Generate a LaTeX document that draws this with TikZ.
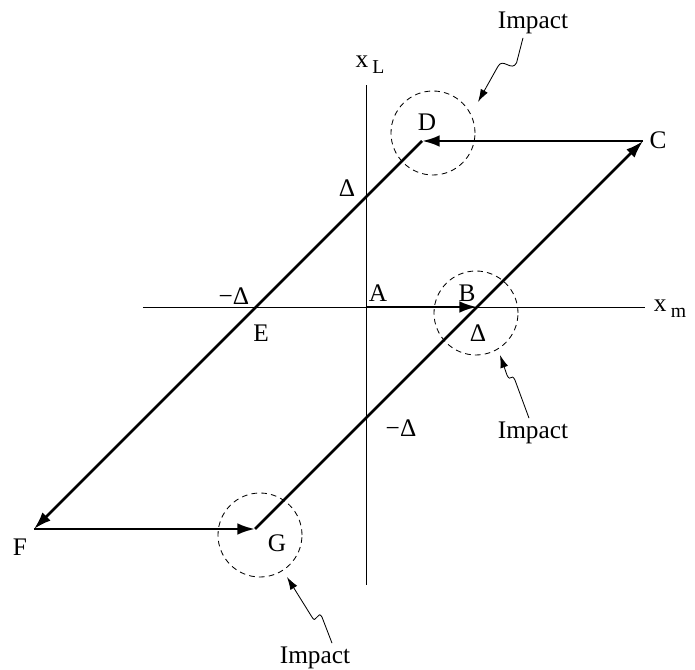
\documentclass[tikz,border=0pt]{standalone}
\usepackage{fontspec}
\setmainfont{Liberation Serif}
\usetikzlibrary{arrows.meta, calc}
\tikzset{
  every picture/.style={font=\fontsize{18}{21}\selectfont, line width=0.7pt},
  axis/.style={line width=0.7pt},
  orbit/.style={line width=1.9pt, -{Latex[length=4.4mm, width=2.9mm]}},
  impact/.style={circle, draw, dash pattern=on 4pt off 3pt, minimum size=2.1cm, inner sep=0pt, line width=0.6pt},
  hint/.style={line width=0.6pt, -{Latex[length=3.2mm, width=2mm]}},
  lbl/.style={inner sep=1pt},
}
\newcommand{\subx}[1]{x\,\raisebox{-0.55ex}{\fontsize{14}{16}\selectfont #1}}

\begin{document}
\begin{tikzpicture}
  \useasboundingbox (-9.15,-9.075) rectangle (8.225,7.675);
  % axes
  \coordinate (xl) at (-5.575,0);
  \coordinate (xr) at (6.975,0);
  \coordinate (yb) at (0,-6.95);
  \coordinate (yt) at (0,5.55);
  \draw[axis] (xl) -- (xr);
  \draw[axis] (yb) -- (yt);
  \node[lbl] (xm) at (7.6,-0.05) {\subx{m}};
  \node[lbl] (xL) at (0.1,6.05) {\subx{L}};
  % corners of the cycle
  \coordinate (A) at (0,0);
  \coordinate (B) at (2.775,0);
  \coordinate (C) at (6.925,4.15);
  \coordinate (D) at (1.4,4.15);
  \coordinate (F) at (-8.3,-5.55);
  \coordinate (G) at (-2.775,-5.55);
  \draw[orbit] (A) -- (B);
  \draw[orbit] (G) -- (C);
  \draw[orbit] (C) -- (D);
  \draw[orbit] (D) -- (F);
  \draw[orbit] (F) -- (G);
  \node[lbl] (labA) at (0.3,0.35) {A};
  \node[lbl] (labB) at (2.525,0.35) {B};
  \node[lbl] (labC) at (7.3,4.175) {C};
  \node[lbl] (labD) at (1.525,4.625) {D};
  \node[lbl] (labE) at (-2.625,-0.65) {E};
  \node[lbl] (labF) at (-8.65,-6.0) {F};
  \node[lbl] (labG) at (-2.225,-5.9) {G};
  \node[lbl] (dUp) at (-0.475,2.975) {Δ};
  \node[lbl] (dLeft) at (-3.3,0.275) {−Δ};
  \node[lbl] (dRight) at (2.8,-0.65) {Δ};
  \node[lbl] (dDown) at (0.875,-3.025) {−Δ};
  % impact zones
  \node[impact] (impD) at (1.675,4.35) {};
  \node[impact] (impB) at (2.75,-0.15) {};
  \node[impact] (impG) at (-2.65,-5.7) {};
  \node[lbl] (txtD) at (4.175,7.1) {Impact};
  \node[lbl] (txtB) at (4.175,-3.15) {Impact};
  \node[lbl] (txtG) at (-1.275,-8.775) {Impact};
  \coordinate (tipD) at (2.8,5.125);
  \coordinate (tipB) at (3.35,-1.2);
  \coordinate (tipG) at (-1.975,-6.75);
  \draw[hint] ($(txtD.south)+(-0.25,-0.05)$) -- ++(-0.16,-0.62)
    .. controls +(-0.12,-0.25) and +(0.125,0.25) .. ++(-0.47,-0.1) -- (tipD);
  \draw[hint] ($(txtB.north)+(-0.1,0.05)$) -- ++(-0.35,0.95)
    .. controls +(-0.1,0.2) and +(0.1,-0.2) .. ++(-0.2,0.125) -- (tipB);
  \draw[hint] ($(txtG.north)+(0.425,0.05)$) -- ++(-0.25,0.65)
    .. controls +(-0.1,0.2) and +(0.1,-0.2) .. ++(-0.25,0) -- (tipG);
\end{tikzpicture}
\end{document}
